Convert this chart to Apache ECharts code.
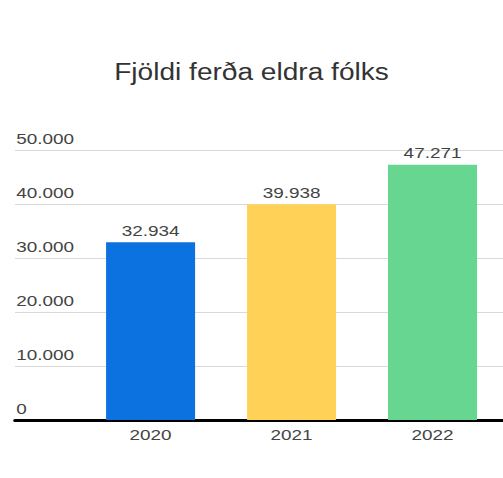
<!DOCTYPE html>
<html>
<head>
<meta charset="utf-8">
<script src="https://cdn.jsdelivr.net/npm/echarts@6.0.0/dist/echarts.min.js"></script>
<style>
  html, body { margin: 0; padding: 0; background: #fff; overflow: hidden; }
  /* the reference is a horizontally stretched screenshot: draw narrow, stretch to 503 */
  #chart { width: 412px; height: 478px; transform: scaleX(1.2209); transform-origin: 0 0; }
</style>
</head>
<body>
<div id="chart"></div>
<script>
"use strict";

const TITLE = "Fjöldi ferða eldra fólks";
const years = ["2020", "2021", "2022"];
const trips = [32934, 39938, 47271];
const barColors = ["#0b72e0", "#ffd257", "#66d690"];
const yTicks = [0, 10000, 20000, 30000, 40000, 50000];

const FONT = "'Liberation Sans', Arial, Helvetica, sans-serif";
const LABEL = "#444444";
const dots = (v) => String(v).replace(/\B(?=(\d{3})+(?!\d))/g, ".");

const Y_MIN = yTicks[0], Y_MAX = yTicks[yTicks.length - 1];
const Y_STEP = yTicks[1] - yTicks[0];

const chart = echarts.init(document.getElementById("chart"), null, { renderer: "svg" });
chart.setOption({
  animation: false,
  backgroundColor: "#ffffff",
  textStyle: { fontFamily: FONT },
  title: {
    text: TITLE,
    left: "center",
    top: 55,
    textStyle: { fontFamily: FONT, fontSize: 23, fontWeight: "normal", color: "#333333" },
  },
  // grid 0: gridlines + y labels across the full width; grid 1: the bars
  grid: [
    { left: 12.3, right: 0, top: 150, bottom: 58 },
    { left: 65.6, width: 353.2, top: 150, bottom: 58 },
  ],
  xAxis: [
    {
      gridIndex: 0, type: "category", data: years,
      axisLine: { lineStyle: { color: "#000000", width: 3 } },
      axisTick: { show: false }, axisLabel: { show: false }, splitLine: { show: false },
    },
    {
      gridIndex: 1, type: "category", data: years,
      axisLine: { show: false }, axisTick: { show: false },
      axisLabel: { color: LABEL, fontSize: 15.5, fontFamily: FONT, margin: 7, lineHeight: 16 },
    },
  ],
  yAxis: [
    {
      gridIndex: 0, type: "value", min: Y_MIN, max: Y_MAX, interval: Y_STEP,
      axisLine: { show: false }, axisTick: { show: false },
      splitLine: { lineStyle: { color: "#d9d9d9", width: 1 } },
      axisLabel: {
        inside: true, margin: 1, align: "left", verticalAlign: "bottom",
        lineHeight: 16, padding: [0, 0, 3, 0],
        color: LABEL, fontSize: 15.5, fontFamily: FONT, formatter: dots,
      },
    },
    {
      gridIndex: 1, type: "value", min: Y_MIN, max: Y_MAX, interval: Y_STEP, show: false,
      splitLine: { show: false },
    },
  ],
  series: [{
    type: "bar",
    xAxisIndex: 1, yAxisIndex: 1,
    barWidth: 72.9,
    data: trips.map((v, i) => ({ value: v, itemStyle: { color: barColors[i] } })),
    label: {
      show: true, position: "top", distance: 4, lineHeight: 16,
      color: LABEL, fontSize: 15.5, fontFamily: FONT,
      formatter: (p) => dots(p.value),
    },
  }],
});
</script>
</body>
</html>
